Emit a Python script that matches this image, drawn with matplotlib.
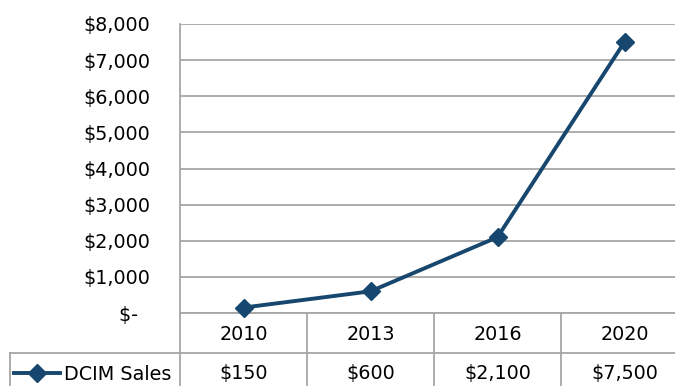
import matplotlib
matplotlib.use("Agg")
import matplotlib.pyplot as plt
from matplotlib.lines import Line2D
from matplotlib.transforms import blended_transform_factory

years = ["2010", "2013", "2016", "2020"]
sales = [150, 600, 2100, 7500]
y_ticks = [0, 1000, 2000, 3000, 4000, 5000, 6000, 7000, 8000]
series_name = "DCIM Sales"

W, H = 675, 386
LINE_COLOR = "#17476E"
GRID_COLOR = "#A6A6A6"
TEXT_COLOR = "#000000"
FONT = "DejaVu Sans"
FS = 13.8

fig = plt.figure(figsize=(W / 100, H / 100), dpi=100)
fig.patch.set_facecolor("white")


def fy(py):
    return 1 - py / H


def fx(px):
    return px / W


ax_left, ax_right, ax_top, ax_bottom = 180, 688, 24, 313
ax = fig.add_axes([fx(ax_left), fy(ax_bottom), fx(ax_right - ax_left),
                   fy(ax_top) - fy(ax_bottom)])

xs = list(range(len(years)))
ax.plot(xs, sales, color=LINE_COLOR, lw=2.8, marker="D", ms=9.5,
        markerfacecolor=LINE_COLOR, markeredgecolor=LINE_COLOR, zorder=3,
        clip_on=False)

ax.set_xlim(-0.5, len(years) - 0.5)
ax.set_ylim(0, 8000)
ax.set_yticks(y_ticks)
ax.set_yticklabels([f"${v:,.0f}" if v else "$-  " for v in y_ticks],
                   fontsize=FS, family=FONT, color=TEXT_COLOR)
ax.tick_params(axis="y", length=0, pad=21.5)
ax.set_xticks([])
ax.yaxis.grid(True, color=GRID_COLOR, lw=1.3)
ax.set_axisbelow(True)
for side in ["top", "right"]:
    ax.spines[side].set_visible(False)
for side in ["left", "bottom"]:
    ax.spines[side].set_color(GRID_COLOR)
    ax.spines[side].set_linewidth(1.3)

# data table below the plot area
tr = blended_transform_factory(ax.transData, fig.transFigure)
row_split = 353
legend_left = 10
fig.add_artist(Line2D([fx(legend_left), fx(ax_right)], [fy(row_split)] * 2,
                      color=GRID_COLOR, lw=1.3))
fig.add_artist(Line2D([fx(legend_left)] * 2, [fy(row_split), fy(H + 5)],
                      color=GRID_COLOR, lw=1.3))
for b in [i - 0.5 for i in range(len(years) + 1)]:
    fig.add_artist(Line2D([b, b], [fy(ax_bottom), fy(H + 5)],
                          transform=tr, color=GRID_COLOR, lw=1.3))

for x, yr, v in zip(xs, years, sales):
    fig.text(x, fy(334), yr, transform=tr, ha="center", va="center",
             fontsize=FS, family=FONT, color=TEXT_COLOR)
    fig.text(x, fy(374), f"${v:,.0f}", transform=tr, ha="center",
             va="center", fontsize=FS, family=FONT, color=TEXT_COLOR)

# legend key inside the table
fig.add_artist(Line2D([fx(14), fx(60)], [fy(373)] * 2, color=LINE_COLOR,
                      lw=2.8))
fig.add_artist(Line2D([fx(37)], [fy(373)], color=LINE_COLOR, marker="D",
                      ms=9.5, lw=0))
fig.text(fx(64), fy(374), series_name, ha="left", va="center", fontsize=FS,
         family=FONT, color=TEXT_COLOR)

fig.savefig("out.png", dpi=100, facecolor="white")
